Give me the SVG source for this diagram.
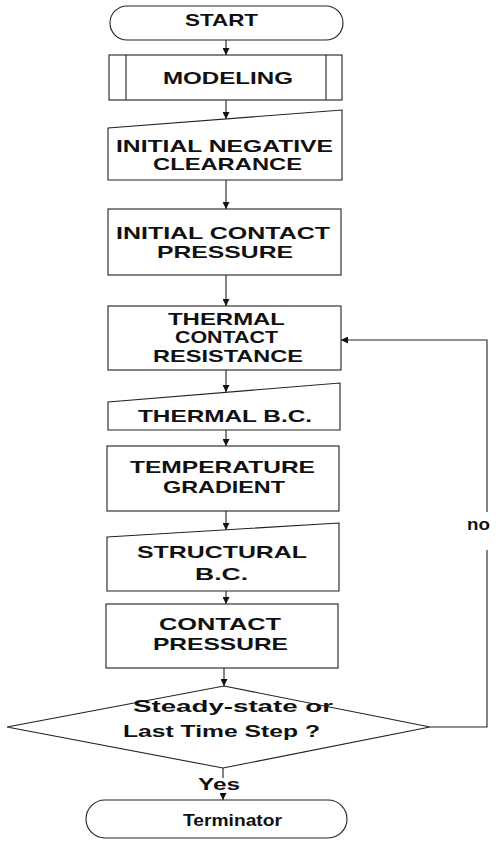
<svg xmlns="http://www.w3.org/2000/svg" width="501" height="842" viewBox="0 0 501 842">
<defs>
<style>
.s{fill:#fff;stroke:#222;stroke-width:1.1}
.t{font-family:"Liberation Sans",Arial,sans-serif;font-weight:bold;font-size:17px;fill:#111}
.c{fill:none;stroke:#222;stroke-width:1.1}
</style>
<marker id="ah" viewBox="0 0 10 10" refX="10" refY="5" markerWidth="7" markerHeight="7" markerUnits="userSpaceOnUse" orient="auto">
<path d="M0,0 L10,5 L0,10 z" fill="#111"/>
</marker>
</defs>
<rect width="501" height="842" fill="#fff"/>
<g id="connectors">
<line class="c" x1="226" y1="40" x2="226" y2="55" marker-end="url(#ah)"/>
<line class="c" x1="226" y1="100" x2="226" y2="119" marker-end="url(#ah)"/>
<line class="c" x1="226" y1="180" x2="226" y2="209" marker-end="url(#ah)"/>
<line class="c" x1="226" y1="275" x2="226" y2="306" marker-end="url(#ah)"/>
<line class="c" x1="226" y1="370" x2="226" y2="392" marker-end="url(#ah)"/>
<line class="c" x1="226" y1="430" x2="226" y2="446" marker-end="url(#ah)"/>
<line class="c" x1="226" y1="511" x2="226" y2="530" marker-end="url(#ah)"/>
<line class="c" x1="226" y1="591" x2="226" y2="604" marker-end="url(#ah)"/>
<line class="c" x1="224" y1="668" x2="224" y2="686" marker-end="url(#ah)"/>
<line class="c" x1="223" y1="768" x2="223" y2="778"/>
<line class="c" x1="223" y1="794" x2="223" y2="800" marker-end="url(#ah)"/>
<polyline class="c" points="430,727 487,727 487,550"/>
<polyline class="c" points="487,512 487,340 341,340" marker-end="url(#ah)"/>
<text class="t" x="467" y="530" textLength="23" lengthAdjust="spacingAndGlyphs">no</text>
<text class="t" x="198" y="790" textLength="42" lengthAdjust="spacingAndGlyphs">Yes</text>
</g>
<g id="start">
<rect class="s" x="110" y="6" width="233" height="34" rx="17" ry="17"/>
<text class="t" x="185" y="26" textLength="73" lengthAdjust="spacingAndGlyphs">START</text>
</g>
<g id="modeling">
<rect class="s" x="109" y="55" width="233" height="45"/>
<line class="c" x1="126" y1="55" x2="126" y2="100"/>
<line class="c" x1="326" y1="55" x2="326" y2="100"/>
<text class="t" x="163" y="84" textLength="130" lengthAdjust="spacingAndGlyphs">MODELING</text>
</g>
<g id="initial-negative-clearance">
<polygon class="s" points="108,128 342,110 342,180 108,180"/>
<text class="t" x="116" y="152" textLength="217" lengthAdjust="spacingAndGlyphs">INITIAL NEGATIVE</text>
<text class="t" x="153" y="170" textLength="149" lengthAdjust="spacingAndGlyphs">CLEARANCE</text>
</g>
<g id="initial-contact-pressure">
<rect class="s" x="108" y="209" width="233" height="66"/>
<text class="t" x="116" y="239" textLength="214" lengthAdjust="spacingAndGlyphs">INITIAL CONTACT</text>
<text class="t" x="157" y="258" textLength="136" lengthAdjust="spacingAndGlyphs">PRESSURE</text>
</g>
<g id="thermal-contact-resistance">
<rect class="s" x="108" y="306" width="233" height="64"/>
<text class="t" x="168" y="325" textLength="117" lengthAdjust="spacingAndGlyphs">THERMAL</text>
<text class="t" x="175" y="343" textLength="103" lengthAdjust="spacingAndGlyphs">CONTACT</text>
<text class="t" x="153" y="362" textLength="150" lengthAdjust="spacingAndGlyphs">RESISTANCE</text>
</g>
<g id="thermal-bc">
<polygon class="s" points="108,402 340,383 340,430 108,430"/>
<text class="t" x="138" y="422" textLength="174" lengthAdjust="spacingAndGlyphs">THERMAL B.C.</text>
</g>
<g id="temperature-gradient">
<rect class="s" x="107" y="446" width="232" height="65"/>
<text class="t" x="130" y="473" textLength="185" lengthAdjust="spacingAndGlyphs">TEMPERATURE</text>
<text class="t" x="163" y="493" textLength="122" lengthAdjust="spacingAndGlyphs">GRADIENT</text>
</g>
<g id="structural-bc">
<polygon class="s" points="107,537 339,523 339,591 107,591"/>
<text class="t" x="137" y="558" textLength="170" lengthAdjust="spacingAndGlyphs">STRUCTURAL</text>
<text class="t" x="195" y="580" textLength="53" lengthAdjust="spacingAndGlyphs">B.C.</text>
</g>
<g id="contact-pressure">
<rect class="s" x="106" y="604" width="232" height="64"/>
<text class="t" x="159" y="630" textLength="122" lengthAdjust="spacingAndGlyphs">CONTACT</text>
<text class="t" x="153" y="650" textLength="135" lengthAdjust="spacingAndGlyphs">PRESSURE</text>
</g>
<g id="decision">
<polygon class="s" points="224,686 430,727 223,768 7,727"/>
<text class="t" x="133" y="712" textLength="200" lengthAdjust="spacingAndGlyphs">Steady-state or</text>
<text class="t" x="123" y="737" textLength="197" lengthAdjust="spacingAndGlyphs">Last Time Step ?</text>
</g>
<g id="terminator">
<rect class="s" x="86" y="800" width="261" height="38" rx="19" ry="19"/>
<text class="t" x="183" y="826" textLength="99" lengthAdjust="spacingAndGlyphs">Terminator</text>
</g>
</svg>
